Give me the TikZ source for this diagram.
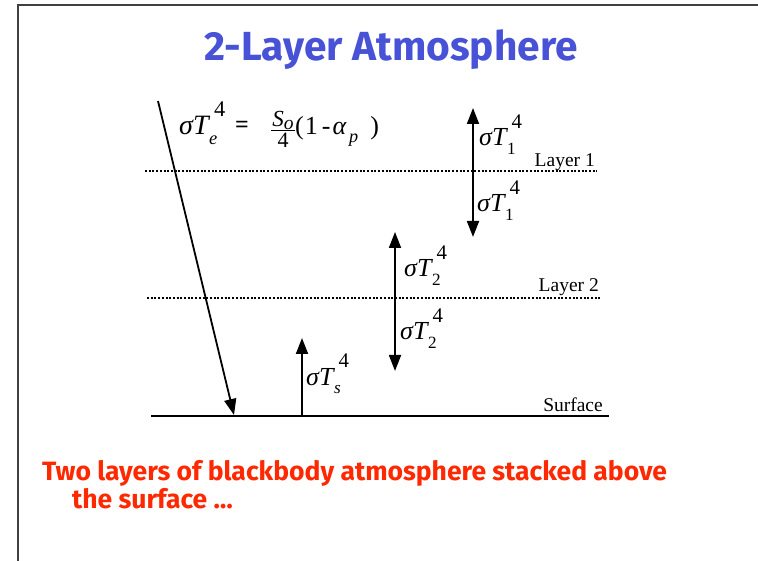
\documentclass[tikz,border=0pt]{standalone}
\usepackage{fontspec}
\usetikzlibrary{arrows.meta}
\newfontfamily\labfont{Liberation Serif}
\newfontfamily\titlefont{Fira Sans}
\definecolor{titleblue}{RGB}{72,82,214}
\definecolor{capred}{RGB}{255,40,0}
% sigma T with subscript #1 and superscript #2, stacked
\newcommand\fluxlab[2]{{\itshape σT}\rlap{\hspace{0.2em}\raisebox{0.66em}{\scalebox{0.8}{#2}}}\hspace{0.02em}\raisebox{-0.34em}{\scalebox{0.66}{#1}}}
\tikzset{
  layerline/.style={line width=1.7pt, dash pattern=on 2pt off 1.7pt},
  flux/.style={line width=1.8pt, -{Triangle[width=12pt,length=16pt]}},
  fluxboth/.style={line width=1.8pt, {Triangle[width=12pt,length=16pt]}-{Triangle[width=12pt,length=16pt]}},
  lab/.style={font=\fontsize{19.5}{21}\selectfont\labfont, inner sep=0pt},
  mlab/.style={font=\fontsize{26}{28}\selectfont\labfont, inner sep=0pt, anchor=base west},
  captxt/.style={inner sep=0pt, anchor=base west, text=capred, font=\fontsize{26.5}{28}\selectfont\titlefont\bfseries},
}
\begin{document}
\begin{tikzpicture}[x=1pt,y=-1pt]
\useasboundingbox (0,0) rectangle (758,561);
\fill[white] (0,0) rectangle (758,561);
% frame
\draw[line width=1.5pt, black!75] (18,561) -- (18,5) -- (758,5);
% title
\node[inner sep=0pt, text=titleblue] (title) at (391,50)
  {\resizebox{373pt}{!}{\titlefont\bfseries 2-Layer Atmosphere}};
% lines
\coordinate (l1a) at (145,171); \coordinate (l1b) at (597,171);
\coordinate (l2a) at (147,298); \coordinate (l2b) at (600,298);
\coordinate (sa) at (151,416); \coordinate (sb) at (609,416);
\draw[layerline] (l1a) -- (l1b);
\draw[layerline] (l2a) -- (l2b);
\draw[line width=2pt] (sa) -- (sb);
\node[lab, anchor=base east] (lay1) at (595,167) {Layer 1};
\node[lab, anchor=base east] (lay2) at (599,292) {Layer 2};
\node[lab, anchor=base east] (surf) at (603,411) {Surface};
% incoming solar
\coordinate (sun0) at (158,101); \coordinate (sun1) at (234,415);
\draw[flux] (sun0) -- (sun1);
% equation
\node[mlab, font=\fontsize{28}{30}\selectfont\labfont] (eqL) at (179,135) {\fluxlab{\itshape e}{4}};
\node[inner sep=0pt, anchor=base, font=\fontsize{24}{26}\selectfont\labfont\bfseries] (eqeq) at (242,133) {=};
\node[inner sep=0pt, anchor=base, font=\fontsize{23}{25}\selectfont\labfont] (frnum) at (283,127)
  {{\itshape S}\raisebox{-0.1em}{\scalebox{0.85}{\itshape o}}};
\node[inner sep=0pt, anchor=base, font=\fontsize{22}{24}\selectfont\labfont] (frden) at (283,148) {4};
\coordinate (bar0) at (271,130.5); \coordinate (bar1) at (295,130.5);
\draw[line width=0.9pt] (bar0) -- (bar1);
\node[mlab] (eqR) at (295,135)
  {(\hspace{1pt}1\hspace{4pt}-\hspace{2pt}{\itshape α}\hspace{3pt}\raisebox{-0.3em}{\scalebox{0.7}{\itshape p}}\hspace{12pt})};
% layer 1
\coordinate (a1t) at (473,108); \coordinate (a1b) at (473,237);
\draw[fluxboth] (a1t) -- (a1b);
\node[mlab] (t1u) at (479,146) {\fluxlab{1}{4}};
\node[mlab] (t1d) at (477,212) {\fluxlab{1}{4}};
% layer 2
\coordinate (a2t) at (395,232); \coordinate (a2b) at (395,371);
\draw[fluxboth] (a2t) -- (a2b);
\node[mlab] (t2u) at (404,277) {\fluxlab{2}{4}};
\node[mlab] (t2d) at (400,340) {\fluxlab{2}{4}};
% surface
\coordinate (s0) at (302,416); \coordinate (s1) at (302,338);
\draw[flux] (s0) -- (s1);
\node[mlab] (ts) at (306,385) {\fluxlab{\itshape s}{4}};
% caption
\node[captxt] (cap1) at (42,480) {Two layers of blackbody atmosphere stacked above};
\node[captxt] (cap2) at (72,508) {the surface …};
\end{tikzpicture}
\end{document}
